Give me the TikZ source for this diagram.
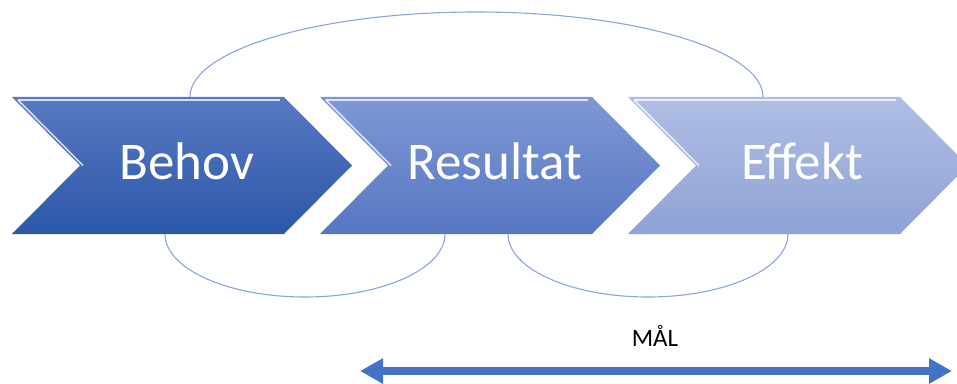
\documentclass[tikz,border=0pt]{standalone}
\usepackage{fontspec}
\newfontfamily\calibri{Carlito}
\usepackage{tikz}
\usetikzlibrary{arrows.meta, calc, positioning}

\definecolor{chevA}{HTML}{3A64B4}
\definecolor{chevAtop}{HTML}{5879C2}
\definecolor{chevAbot}{HTML}{2C57A8}
\definecolor{chevBtop}{HTML}{7F98D4}
\definecolor{chevBbot}{HTML}{5677C2}
\definecolor{chevCtop}{HTML}{B0BEE4}
\definecolor{chevCbot}{HTML}{8EA2D5}
\definecolor{loopline}{HTML}{8AA5DC}
\definecolor{goalblue}{HTML}{4472C4}

\begin{document}
\begin{tikzpicture}[x=1pt, y=1pt,
    chev/.style={draw=none},
    bevel/.style={white, line width=1.6pt, opacity=0.75},
    steptext/.style={text=white, anchor=base, font=\calibri\fontsize{53}{60}\selectfont},
    loop/.style={draw=loopline, line width=1.1pt},
    goal/.style={draw=goalblue, line width=8pt, {Triangle[length=23pt, width=24pt]}-{Triangle[length=23pt, width=24pt]}}]
    \clip (0,0) rectangle (957,383);

    % Chevrons
    \shade[chev, top color=chevAtop, bottom color=chevAbot] (12,286) -- (284,286) -- (352,217.5) -- (284,149) -- (12,149) -- (80,217.5) -- cycle;
    \shade[chev, top color=chevBtop, bottom color=chevBbot] (320,286) -- (592,286) -- (660,217.5) -- (592,149) -- (320,149) -- (388,217.5) -- cycle;
    \shade[chev, top color=chevCtop, bottom color=chevCbot] (628,286) -- (900,286) -- (968,217.5) -- (900,149) -- (628,149) -- (696,217.5) -- cycle;

    % Bevel highlights
    \draw[bevel] (18,283) -- (280,283);
    \draw[bevel] (18,283) -- (83,217.5);
    \draw[bevel] (326,283) -- (588,283);
    \draw[bevel] (326,283) -- (391,217.5);
    \draw[bevel] (634,283) -- (896,283);
    \draw[bevel] (634,283) -- (699,217.5);

    % Labels
    \node[steptext] (behov) at (187,203) {Behov};
    \node[steptext] (resultat) at (495,203) {Resultat};
    \node[steptext] (effekt) at (802,203) {Effekt};

    % Loops
    \coordinate (behov-top) at (190,286);
    \coordinate (effekt-top) at (763,286);
    \coordinate (behov-bot) at (165,149);
    \coordinate (resultat-bot) at (445,149);
    \coordinate (resultat-bot2) at (508,149);
    \coordinate (effekt-bot) at (788,149);
    \draw[loop] (behov-top) arc[start angle=180, end angle=0, x radius=286.5, y radius=85];
    \draw[loop] (behov-bot) arc[start angle=180, end angle=360, x radius=140, y radius=63];
    \draw[loop] (resultat-bot2) arc[start angle=180, end angle=360, x radius=140, y radius=63];

    % Goal
    \node[font=\calibri\fontsize{25}{30}\selectfont] (mal) at (655,47) {MÅL};
    \coordinate (mal-l) at (360,12);
    \coordinate (mal-r) at (952,12);
    \draw[goal] (mal-l) -- (mal-r);
\end{tikzpicture}
\end{document}
